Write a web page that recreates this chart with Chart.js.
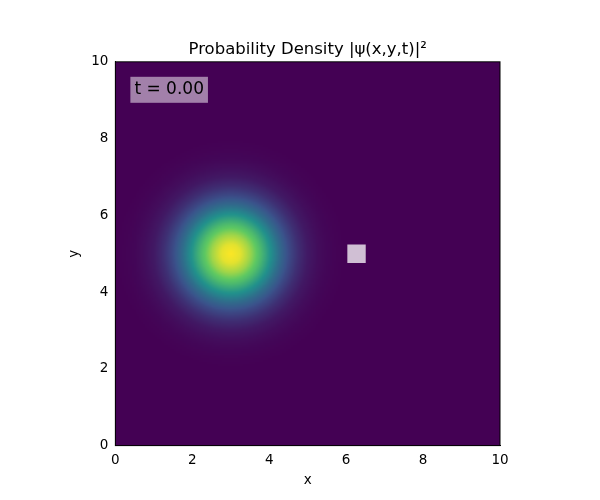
<!DOCTYPE html>
<html>
<head>
<meta charset="utf-8">
<script src="https://cdn.jsdelivr.net/npm/chart.js@4"></script>
<style>body{margin:0;background:#fff}</style>
</head>
<body>
<div style="width:600px;height:500px"><canvas id="c" width="600" height="500"></canvas></div>
<script>
// radial density profile (normalized), r = 0, 0.25, ... 3.0
const profileR = [0, 0.25, 0.5, 0.75, 1, 1.25, 1.5, 1.75, 2, 2.25, 2.5, 2.75, 3];
const profileV = [1.00, 0.96, 0.85, 0.70, 0.52, 0.36, 0.23, 0.14, 0.075, 0.04, 0.018, 0.007, 0.0];
const packetCenter = [3, 5];
const barrier = [{ x: 6.27, y: 5 }];
const ticks = [0, 2, 4, 6, 8, 10];
const timeLabel = "t = 0.00";
const titleText = "Probability Density |ψ(x,y,t)|²";

const viridis = [[68,1,84],[59,82,139],[33,145,140],[94,201,98],[253,231,37]];
function cmap(v) {
  v = Math.max(0, Math.min(1, v)) * 4;
  const i = Math.min(3, Math.floor(v)), f = v - i;
  const a = viridis[i], b = viridis[i + 1];
  return [0,1,2].map(k => Math.round(a[k] + (b[k] - a[k]) * f));
}
function density(r) {
  if (r >= profileR[profileR.length - 1]) return 0;
  const i = Math.floor(r / 0.25), f = r / 0.25 - i;
  return profileV[i] + (profileV[i + 1] - profileV[i]) * f;
}

// build the image (0..10 in both axes)
const N = 200;
const img = document.createElement("canvas");
img.width = N; img.height = N;
const ictx = img.getContext("2d");
const id = ictx.createImageData(N, N);
for (let j = 0; j < N; j++) {
  for (let i = 0; i < N; i++) {
    const x = (i + 0.5) / N * 10, y = 10 - (j + 0.5) / N * 10;
    const r = Math.hypot(x - packetCenter[0], y - packetCenter[1]);
    const c = cmap(density(r));
    const p = (j * N + i) * 4;
    id.data[p] = c[0]; id.data[p + 1] = c[1]; id.data[p + 2] = c[2]; id.data[p + 3] = 255;
  }
}
ictx.putImageData(id, 0, 0);

const heatmap = {
  id: "heatmap",
  beforeDatasetsDraw(chart) {
    const { ctx, scales: { x, y } } = chart;
    const x0 = x.getPixelForValue(0), x1 = x.getPixelForValue(10);
    const y0 = y.getPixelForValue(10), y1 = y.getPixelForValue(0);
    ctx.save();
    ctx.imageSmoothingEnabled = true;
    ctx.drawImage(img, x0, y0, x1 - x0, y1 - y0);
    ctx.restore();
  },
  afterDraw(chart) {
    const { ctx, chartArea: a } = chart;
    ctx.save();
    ctx.font = "17px 'DejaVu Sans'";
    const w = ctx.measureText(timeLabel).width;
    ctx.fillStyle = "rgba(255,255,255,0.5)";
    ctx.fillRect(a.left + 15, a.top + 15, w + 8, 26);
    ctx.fillStyle = "#000";
    ctx.textBaseline = "middle";
    ctx.fillText(timeLabel, a.left + 19, a.top + 28);
    // title centred over the plot area
    ctx.font = "16.5px 'DejaVu Sans'";
    ctx.textAlign = "center";
    ctx.textBaseline = "alphabetic";
    ctx.fillText(titleText, (a.left + a.right) / 2, a.top - 8);
    ctx.strokeStyle = "#000";
    ctx.lineWidth = 1;
    ctx.strokeRect(a.left, a.top, a.right - a.left, a.bottom - a.top);
    ctx.restore();
  }
};

const axisCommon = {
  type: "linear", min: 0, max: 10,
  grid: { display: false, drawTicks: true, tickLength: 4, tickColor: "#000" },
  border: { color: "#000" },
  ticks: { stepSize: 2, color: "#000", font: { size: 13.5, family: "DejaVu Sans" } },
  afterBuildTicks(s) { s.ticks = ticks.map(v => ({ value: v })); }
};

new Chart(document.getElementById("c"), {
  type: "scatter",
  data: {
    datasets: [{
      data: barrier,
      pointStyle: "rect",
      pointRadius: 13,
      backgroundColor: "rgba(255,255,255,0.75)",
      borderWidth: 0
    }]
  },
  options: {
    responsive: false,
    animation: false,
    layout: { padding: { left: 60, right: 100, top: 0, bottom: 10 } },
    plugins: {
      legend: { display: false },
      tooltip: { enabled: false },
      title: {
        display: true, text: titleText, color: "rgba(0,0,0,0)",
        font: { size: 16.5, weight: "normal", family: "DejaVu Sans" },
        padding: { top: 38, bottom: 4 }
      }
    },
    scales: {
      x: { ...axisCommon, title: { display: true, text: "x", color: "#000", font: { size: 13.5, family: "DejaVu Sans" }, padding: 1 } },
      y: { ...axisCommon, title: { display: true, text: "y", color: "#000", font: { size: 13.5, family: "DejaVu Sans" }, padding: 6 } }
    }
  },
  plugins: [heatmap]
});
</script>
</body>
</html>
